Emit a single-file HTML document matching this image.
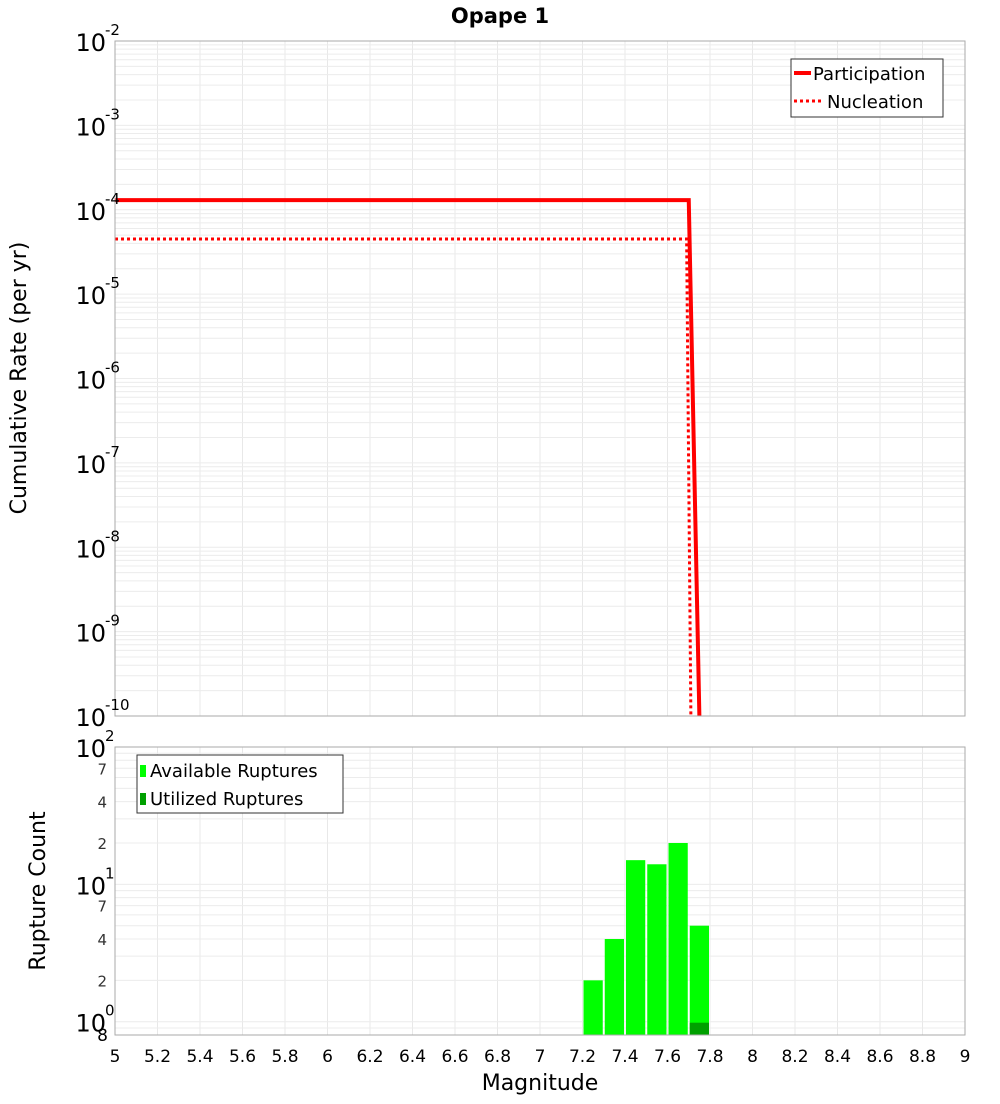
<!DOCTYPE html>
<html><head><meta charset="utf-8"><style>
body{margin:0;background:#fff;font-family:"DejaVu Sans","Liberation Sans",sans-serif;}
svg text{font-family:"DejaVu Sans","Liberation Sans",sans-serif;}
</style></head><body>
<svg id="c" width="1000" height="1100" xmlns="http://www.w3.org/2000/svg">
<text x="500" y="23" text-anchor="middle" font-size="21" font-weight="bold">Opape 1</text>
<g id="top"></g>
<g id="bot"></g>
<text transform="translate(26,378) rotate(-90)" text-anchor="middle" font-size="22">Cumulative Rate (per yr)</text>
<text transform="translate(45,891) rotate(-90)" text-anchor="middle" font-size="22">Rupture Count</text>
<text x="540" y="1090" text-anchor="middle" font-size="22">Magnitude</text>
</svg>
<script>
const partMags=[5,7.7,7.75];
const partRates=[1.3e-4,1.3e-4,1e-10];
const nuclMags=[5,7.69,7.71];
const nuclRates=[4.5e-5,4.5e-5,1e-10];
const binStarts=[7.2,7.3,7.4,7.5,7.6,7.7];
const availCounts=[2,4,15,14,20,5];
const utilStarts=[7.7];
const utilCounts=[1];
const xTicks=[5,5.2,5.4,5.6,5.8,6,6.2,6.4,6.6,6.8,7,7.2,7.4,7.6,7.8,8,8.2,8.4,8.6,8.8,9];
const topExps=[-2,-3,-4,-5,-6,-7,-8,-9,-10];
const botMinor=[2,4,7,20,40,70];

const NS='http://www.w3.org/2000/svg';
const L=115,R=965;
const T1=41,B1=716,T2=747,B2=1035;
const x=m=>L+(m-5)/(9-5)*(R-L);
const y1=v=>T1+(-2-Math.log10(v))/8*(B1-T1);
const lo=Math.log10(0.8),hi=2;
const y2=v=>B2-(Math.log10(v)-lo)/(hi-lo)*(B2-T2);
function el(p,t,a,txt){const e=document.createElementNS(NS,t);for(const k in a)e.setAttribute(k,a[k]);if(txt!==undefined)e.textContent=txt;p.appendChild(e);return e;}
const gTop=document.getElementById('top'),gBot=document.getElementById('bot');
for(let m=5;m<=9.001;m+=0.2){
 let g=el(gTop,'line',{x1:x(m),x2:x(m),y1:T1,y2:B1,stroke:'#e8e8e8'});
 
 
 let g2=el(gBot,'line',{x1:x(m),x2:x(m),y1:T2,y2:B2,stroke:'#e8e8e8'});
 
 
}
for(let e=-10;e<-2;e++)for(let k=1;k<10;k++){
 const v=k*Math.pow(10,e);
 let g=el(gTop,'line',{x1:L,x2:R,y1:y1(v),y2:y1(v),stroke:'#ececec'});
 
 
}
for(let e=-1;e<2;e++)for(let k=1;k<10;k++){
 const v=k*Math.pow(10,e); if(v<0.8)continue;
 let g=el(gBot,'line',{x1:L,x2:R,y1:y2(v),y2:y2(v),stroke:'#ececec'});
 
 
}
function path(ms,vs){return ms.map((m,i)=>(i?'L':'M')+x(m)+','+y1(vs[i])).join(' ');}
let pl=el(gTop,'path',{d:path(partMags,partRates),fill:'none',stroke:'#ff0000','stroke-width':4});


let nl=el(gTop,'path',{d:path(nuclMags,nuclRates),fill:'none',stroke:'#ff0000','stroke-width':3,'stroke-dasharray':'3,3'});


binStarts.forEach((m,i)=>{
 let b=el(gBot,'rect',{x:x(m)+1,width:x(m+0.1)-x(m)-2,y:y2(availCounts[i]),height:B2-y2(availCounts[i]),fill:'#00ff00'});
 
 
});
utilStarts.forEach((m,i)=>{
 let b=el(gBot,'rect',{x:x(m)+1,width:x(m+0.1)-x(m)-2,y:y2(utilCounts[i])+1,height:B2-y2(utilCounts[i])-1,fill:'#00a000'});
 
 
});
let f1=el(gTop,'rect',{x:L,y:T1,width:R-L,height:B1-T1,fill:'none',stroke:'#aaa'});


let f2=el(gBot,'rect',{x:L,y:T2,width:R-L,height:B2-T2,fill:'none',stroke:'#aaa'});


xTicks.forEach(m=>{
 let t=el(gBot,'text',{x:x(m),y:1062,'text-anchor':'middle','font-size':17},String(m));
 
 
});
topExps.forEach(e=>{
 const yy=y1(Math.pow(10,e));
 let t=el(gTop,'text',{x:106,y:yy+10,'text-anchor':'end','font-size':24},'10');
 
 
 let s=el(gTop,'text',{x:105,y:yy-6,'font-size':15},String(e));
 
 
});
[[100,'2'],[10,'1'],[1,'0']].forEach(([v,e])=>{
 const yy=y2(v);
 let t=el(gBot,'text',{x:106,y:yy+10,'text-anchor':'end','font-size':24},'10');
 
 
 let s=el(gBot,'text',{x:105,y:yy-6,'font-size':15},e);
 
 
});
botMinor.forEach(v=>{
 let t=el(gBot,'text',{x:107,y:y2(v)+6,'text-anchor':'end','font-size':15,fill:'#333'},String(v).charAt(0));
 
 
});
let t8=el(gBot,'text',{x:108,y:1041,'text-anchor':'end','font-size':17},'8');


let lg=el(gTop,'g',{});


el(lg,'rect',{x:791,y:59,width:152,height:58,fill:'#fff',stroke:'#333'});
el(lg,'line',{x1:794,x2:811,y1:73,y2:73,stroke:'#f00','stroke-width':4});
el(lg,'line',{x1:794,x2:821,y1:101,y2:101,stroke:'#f00','stroke-width':3,'stroke-dasharray':'3,3'});
el(lg,'text',{x:813,y:80,'font-size':18},'Participation');
el(lg,'text',{x:827,y:108,'font-size':18},'Nucleation');
let lg2=el(gBot,'g',{});


el(lg2,'rect',{x:137,y:755,width:206,height:58,fill:'#fff',stroke:'#333'});
el(lg2,'rect',{x:140,y:765,width:6,height:12,fill:'#00ff00'});
el(lg2,'rect',{x:140,y:793,width:6,height:12,fill:'#00a000'});
el(lg2,'text',{x:150,y:777,'font-size':18},'Available Ruptures');
el(lg2,'text',{x:150,y:805,'font-size':18},'Utilized Ruptures');
</script>
</body></html>
